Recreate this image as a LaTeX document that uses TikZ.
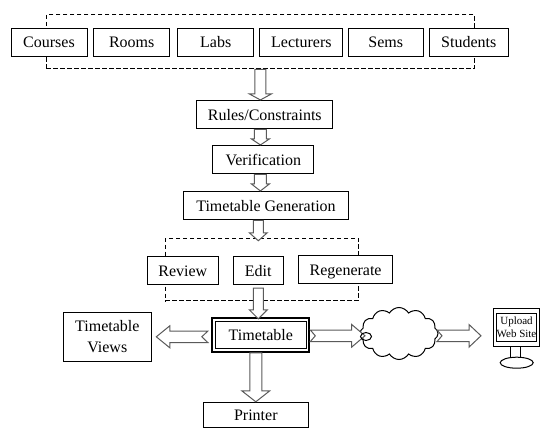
\documentclass[tikz,border=0pt]{standalone}
\usepackage{fontspec}
\setmainfont{Liberation Serif}
\usetikzlibrary{calc,shapes.geometric,shapes.symbols}
\definecolor{arrowgray}{RGB}{90,90,90}
\tikzstyle{itembox} = [rectangle, draw=black, fill=white, line width=1pt, minimum height=28.5pt, text centered, inner sep=0pt, text height=13pt, text depth=2pt, font=\fontsize{16}{19}\selectfont]
\tikzstyle{groupbox} = [rectangle, draw=black, line width=1pt, dash pattern=on 4.5pt off 2.5pt, inner sep=0pt]
\tikzset{blockarrow/.style n args={4}{draw=arrowgray, fill=white, line width=1pt, line join=miter, to path={
  ($(\tikztostart)!#4!(\tikztotarget)$) -- ($(\tikztostart)!#1!90:(\tikztotarget)$)
  -- ($(\tikztotarget)!#3!(\tikztostart)!#1!-90:(\tikztostart)$)
  -- ($(\tikztotarget)!#3!(\tikztostart)!#2!-90:(\tikztostart)$)
  -- (\tikztotarget)
  -- ($(\tikztotarget)!#3!(\tikztostart)!#2!90:(\tikztostart)$)
  -- ($(\tikztotarget)!#3!(\tikztostart)!#1!90:(\tikztostart)$)
  -- ($(\tikztostart)!#1!-90:(\tikztotarget)$) -- cycle}}}
\begin{document}
\begin{tikzpicture}[x=1pt, y=-1pt]
\useasboundingbox (0,0) rectangle (546,436);
% Input group
\node (inputs) [groupbox, minimum width=428pt, minimum height=54pt] at (260.4,42) {};
\node (courses) [itembox, minimum width=76pt] at (49,42.3) {Courses};
\node (rooms) [itembox, minimum width=75.5pt] at (131.7,42.3) {Rooms};
\node (labs) [itembox, minimum width=75.5pt] at (215.7,42.3) {Labs};
\node (lecturers) [itembox, minimum width=83pt] at (301.4,42.3) {Lecturers};
\node (sems) [itembox, minimum width=75pt] at (385.8,42.3) {Sems};
\node (students) [itembox, minimum width=79pt] at (468.8,42.3) {Students};
% Main steps
\node (rules) [itembox, minimum width=135.7pt] at (264.8,114.7) {Rules/Constraints};
\node (verify) [itembox, minimum width=100.7pt] at (263.3,159.7) {Verification};
\node (generate) [itembox, minimum width=165pt] at (266,205.7) {Timetable Generation};
% Edit group
\node (editing) [groupbox, minimum width=193pt, minimum height=62.7pt] at (261.8,269.6) {};
\node (review) [itembox, minimum width=71pt] at (182.8,270.7) {Review};
\node (edit) [itembox, minimum width=50pt] at (258.3,270.7) {Edit};
\node (regen) [itembox, minimum width=94.7pt] at (345.6,269.7) {Regenerate};
% Timetable and outputs
\node (ttframe) [rectangle, draw=black, line width=2pt, minimum width=97pt, minimum height=34pt] at (260.8,334.8) {};
\node (timetable) [itembox, minimum width=91pt, minimum height=27pt] at (260.8,334.8) {Timetable};
\node (views) [itembox, minimum width=88pt, minimum height=49pt, align=center, text height=, text depth=] at (107.3,336.8) {Timetable\\[2pt]Views};
\node (printer) [itembox, minimum width=105pt, minimum height=25pt] at (255.8,414.8) {Printer};
\node (cloud) [cloud, draw=black, fill=white, line width=1pt, cloud puffs=12, cloud puff arc=120, aspect=1.6, minimum width=78pt, minimum height=52pt, inner sep=0pt] at (399,333.5) {};
% Monitor
\node (screen) [rectangle, draw=black, fill=white, line width=1pt, minimum width=46.4pt, minimum height=38.4pt] at (516.5,327.5) {};
\node (upload) [rectangle, draw=black, line width=1pt, minimum width=39pt, minimum height=28.7pt, inner sep=0pt, align=center, font=\fontsize{11}{12.5}\selectfont] at (516.5,327.4) {Upload\\Web Site};
\node (stand) [rectangle, draw=black, line width=1pt, minimum width=10pt, minimum height=11.6pt] at (515.7,352.5) {};
\node (base) [ellipse, draw=black, fill=white, line width=1pt, minimum width=33pt, minimum height=11pt, inner sep=0pt] at (516.7,362.7) {};
\coordinate (cloudin) at (365,335.8);
\coordinate (cloudout) at (437,335.8);
\coordinate (monitorin) at (481,335.8);
% Block arrows
\draw[blockarrow={5.5pt}{11pt}{6pt}{0pt}] (inputs.south) to (rules.north -| inputs.south);
\draw[blockarrow={6pt}{9pt}{6pt}{0pt}] (rules.south -| inputs.south) to (verify.north -| inputs.south);
\draw[blockarrow={6pt}{9pt}{7pt}{0pt}] (verify.south -| inputs.south) to (generate.north -| inputs.south);
\draw[blockarrow={5pt}{9pt}{8pt}{0pt}] (generate.south -| edit.south) to ([yshift=-3pt]editing.north -| edit.south);
\draw[blockarrow={5pt}{9pt}{9pt}{0pt}] ([yshift=-2.7pt]edit.south) to ([yshift=-2pt]ttframe.north -| edit.south);
\draw[blockarrow={5.7pt}{11pt}{13.5pt}{6pt}] ([xshift=-3.5pt]ttframe.west |- views.east) to ([xshift=4.5pt]views.east);
\draw[blockarrow={6pt}{14pt}{11pt}{0pt}] (ttframe.south -| printer.north) to (printer.north);
\draw[blockarrow={5.8pt}{11.3pt}{12pt}{5pt}] (cloudout) to (monitorin);
\draw[blockarrow={5.8pt}{11.3pt}{13.3pt}{5pt}] (ttframe.east |- cloudin) to (cloudin);
\node (lobe) [ellipse, draw=black, line width=1pt, minimum width=11pt, minimum height=8pt, inner sep=0pt] at (366,336.5) {};
\end{tikzpicture}
\end{document}
